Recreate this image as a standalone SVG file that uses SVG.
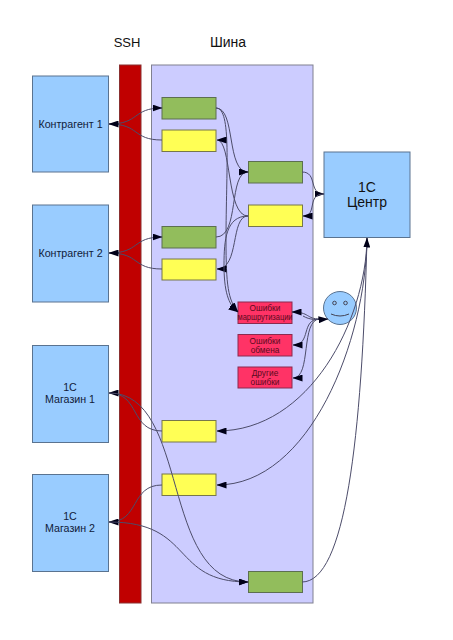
<svg xmlns="http://www.w3.org/2000/svg" width="453" height="640" viewBox="0 0 453 640">
<style>
text{font-family:"Liberation Sans",Arial,sans-serif;text-anchor:middle;fill:#111}
.b{fill:#99ccff;stroke:#5a7390;stroke-width:1}
.g{fill:#92bd5c;stroke:#5c6f50;stroke-width:1}
.y{fill:#ffff55;stroke:#77774a;stroke-width:1}
.r{fill:#ff3366;stroke:#8a2a50;stroke-width:1}
.l{font-size:10.700px;fill:#10203a}
.e{font-size:8.300px;fill:#5a0a20}
#connectors path{fill:none;stroke:#4c4c6a;stroke-width:1}
#connectors path.m{marker-end:url(#a)}
</style>
<defs><marker id="a" markerUnits="userSpaceOnUse" markerWidth="10" markerHeight="7" refX="9.500" refY="3.500" orient="auto"><path d="M0 0L10 3.500L0 7Z" fill="#000018"/></marker></defs>
<rect width="453" height="640" fill="#fff"/>
<text x="127" y="47" font-size="13">SSH</text>
<text x="228" y="47" font-size="14">Шина</text>
<g id="ssh"><rect x="119.500" y="65" width="21.500" height="538" fill="#c00000" stroke="#8a3030"/></g>
<g id="bus"><rect x="151.500" y="65" width="161.500" height="538" fill="#ccccff" stroke="#808090"/></g>
<g id="contragent1"><rect class="b" x="32.500" y="76" width="76" height="96"/><text class="l" x="70.500" y="128">Контрагент 1</text></g>
<g id="contragent2"><rect class="b" x="32.500" y="205" width="76" height="97"/><text class="l" x="70.500" y="257">Контрагент 2</text></g>
<g id="shop1"><rect class="b" x="32.500" y="345.500" width="76" height="97"/><text class="l" x="70" y="391">1С</text><text class="l" x="70" y="403">Магазин 1</text></g>
<g id="shop2"><rect class="b" x="32.500" y="474.500" width="76" height="97"/><text class="l" x="70" y="520">1С</text><text class="l" x="70" y="532">Магазин 2</text></g>
<g id="center"><rect class="b" x="324" y="152" width="86" height="85.500"/><text x="367" y="192" font-size="14" fill="#10203a">1С</text><text x="367" y="207" font-size="14" fill="#10203a">Центр</text></g>
<g id="green1"><rect class="g" x="162" y="97.500" width="54" height="21.500"/></g>
<g id="yellow1"><rect class="y" x="162" y="130" width="54" height="21.500"/></g>
<g id="green-mid"><rect class="g" x="248.500" y="161.500" width="54" height="21.500"/></g>
<g id="yellow-mid"><rect class="y" x="248.500" y="205" width="54" height="21.500"/></g>
<g id="green2"><rect class="g" x="162" y="226.500" width="54" height="21.500"/></g>
<g id="yellow2"><rect class="y" x="162" y="259" width="54" height="21"/></g>
<g id="yellow3"><rect class="y" x="162" y="420.500" width="54" height="21.500"/></g>
<g id="yellow4"><rect class="y" x="162" y="474" width="54" height="21.500"/></g>
<g id="green3"><rect class="g" x="248.500" y="571.500" width="54" height="21"/></g>
<g id="err1"><rect class="r" x="238" y="302" width="54" height="21.500"/><text class="e" x="265" y="311">Ошибки</text><text class="e" x="265" y="320" textLength="55" lengthAdjust="spacingAndGlyphs">маршрутизации</text></g>
<g id="err2"><rect class="r" x="238" y="334.500" width="54" height="21.500"/><text class="e" x="265" y="343.500">Ошибки</text><text class="e" x="265" y="352.500">обмена</text></g>
<g id="err3"><rect class="r" x="238" y="367" width="54" height="21"/><text class="e" x="265" y="376">Другие</text><text class="e" x="265" y="385">ошибки</text></g>
<g id="operator"><circle cx="340" cy="308" r="16.500" fill="#99ccff" stroke="#5a7390"/><circle cx="334.500" cy="303" r="1.800" fill="none" stroke="#445"/><circle cx="345.500" cy="303" r="1.800" fill="none" stroke="#445"/><path d="M331 314Q340 318 349 314" fill="none" stroke="#445"/></g>
<g id="connectors">
<path class="m" d="M109 124C140 124 132 108 162 108"/>
<path class="m" d="M162 140C132 140 140 124 109 124"/>
<path class="m" d="M109 253C140 253 132 237 162 237"/>
<path class="m" d="M162 269C132 269 140 253 109 253"/>
<path class="m" d="M216 108C236 108 226 172 248 172"/>
<path class="m" d="M216 108C232 108 226 170 226 240C226 285 228 300 238 312"/>
<path class="m" d="M216 237C240 237 228 172 248 172"/>
<path class="m" d="M248 216C226 216 232 140 217 140"/>
<path class="m" d="M248 216C230 216 240 269 217 269"/>
<path class="m" d="M248 216C226 216 224 240 224 265C224 290 228 305 238 312"/>
<path class="m" d="M302 172C318 172 308 194 324 194"/>
<path class="m" d="M324 194C306 194 318 216 303 216"/>
<path class="m" d="M320 319C306 319 310 312 292 312"/>
<path class="m" d="M320 319C300 319 312 345 293 345"/>
<path class="m" d="M320 319C300 319 312 378 293 378"/>
<path class="m" d="M303 316C310 320 316 320 328 319"/>
<path class="m" d="M367 238C366 320 310 431 217 431"/>
<path class="m" d="M367 238C366 340 310 485 217 485"/>
<path class="m" d="M302 582C345 582 362 440 367 238"/>
<path class="m" d="M162 431C130 431 140 393 109 393"/>
<path class="m" d="M162 485C130 485 140 522 109 522"/>
<path class="m" d="M109 393C190 393 160 582 248 582"/>
<path class="m" d="M109 522C195 522 170 582 248 582"/>
</g>
</svg>
